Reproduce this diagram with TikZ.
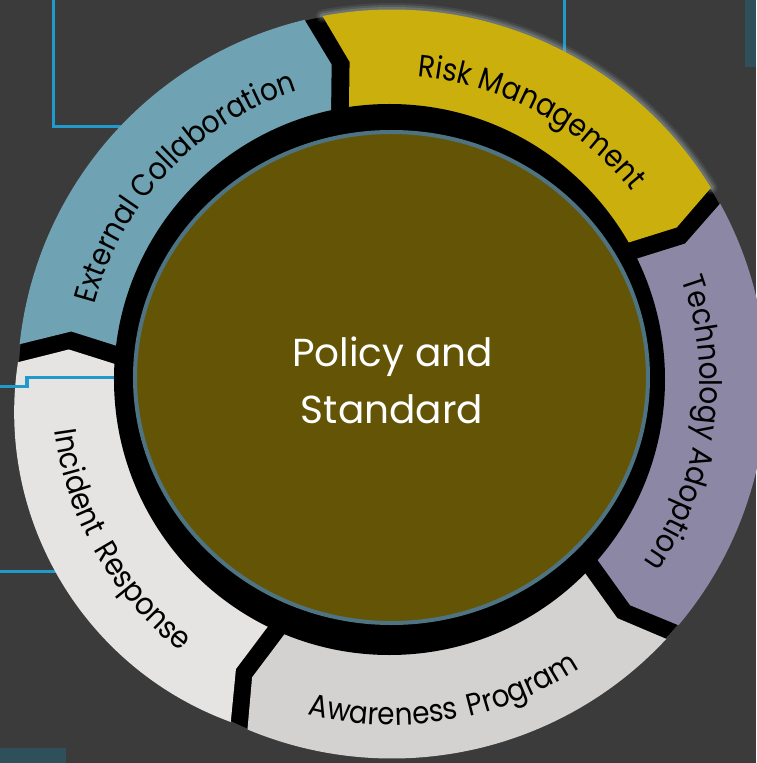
\documentclass[tikz,border=0pt]{standalone}
\usepackage{fontspec}
\usetikzlibrary{decorations.text}
\newfontfamily\segfont[FakeStretch=0.9]{Poppins}
\newfontfamily\cenfont{Poppins}
\definecolor{bgc}{HTML}{3B3B3B}
\definecolor{bluel}{HTML}{1F9ACB}
\definecolor{tealc}{HTML}{2F4F5B}
\definecolor{segB}{HTML}{6FA2B2}
\definecolor{segY}{HTML}{CBAF0C}
\definecolor{segP}{HTML}{8B87A5}
\definecolor{segA}{HTML}{D3D2D0}
\definecolor{segI}{HTML}{E5E4E2}
\definecolor{olivec}{HTML}{645405}
\definecolor{oliveb}{HTML}{4E7484}
\definecolor{glowc}{HTML}{9AA8AE}
\tikzset{
  bline/.style={bluel, line width=3.2pt},
  segtext/.style={decorate, decoration={text along path, text align=center, text={|\segfont\fontsize{31}{34}\selectfont|#1}}},
  centertext/.style={text=white, font=\cenfont\fontsize{39}{45}\selectfont, anchor=base, inner sep=0pt}
}
\begin{document}
\begin{tikzpicture}[x=1pt,y=1pt]
\useasboundingbox (-392,-379) rectangle (364,384);
\fill[bgc] (-392,-379) rectangle (364,384);
% background connector lines
\coordinate (l1a) at (-338.5,384);
\coordinate (l1b) at (-338.5,257.5);
\coordinate (l1c) at (-250,257.5);
\draw[bline] (l1a) -- (l1b) -- (l1c);
\coordinate (l2a) at (172.7,384);
\coordinate (l2b) at (172.7,320);
\draw[bline] (l2a) -- (l2b);
\coordinate (l3a) at (-392,-187.3);
\coordinate (l3b) at (-300,-187.3);
\draw[bline] (l3a) -- (l3b);
\fill[tealc] (-392,-379) rectangle (-326,-364);
\fill[tealc] (353,384) rectangle (364,317);
% black base disc
\fill[black] (0,0) circle (373.5);
% glow of the risk segment
\foreach \w/\o in {13/0.12,9/0.2,5/0.3}
  \draw[glowc, line width=\w pt, opacity=\o, line cap=round] (100.7:374.5) arc[start angle=100.7, end angle=31.6, radius=374.5];
% segments
\foreach \s/\e/\c in {102.1/30.2/segY, 30.2/-41.5/segP, -41.5/-114.1/segA, 175.3/102.1/segB}
  \fill[\c] (\s-2.1:250) -- (\s-4.6:325) -- (\s-1.4:374.5) arc[start angle=\s-1.4, end angle=\e+1.4, radius=374.5] -- (\e-1.4:325) -- (\e+2.1:250) -- cycle;
% incident segment: its outer edge bulges a little more
\fill[segI] (-116.2:250) -- (-118.7:325) -- (-115.5:374.5)
  arc[start angle=-110.1, end angle=-188.7, radius=330] -- (-186.1:325) -- (-182.6:250) -- cycle;
% connector line crossing the incident segment
\coordinate (l4a) at (-392,-2.7);
\coordinate (l4b) at (-365,-2.7);
\coordinate (l4c) at (-365,6.5);
\coordinate (l4d) at (-270,6.5);
\draw[bline] (l4a) -- (l4b) -- (l4c) -- (l4d);
% inner black ring and centre
\fill[black] (-2.5,4.5) circle (275.5);
\filldraw[fill=olivec, draw=oliveb, line width=4pt] (-0.5,6.5) ellipse [x radius=256.5, y radius=245.5];
\node[centertext] (pol) at (0.5,18) {Policy and};
\node[centertext] (std) at (0,-39) {Standard};
% segment labels
\path[segtext={External Collaboration}] (174.5:308) arc[start angle=174.5, end angle=98.5, radius=308];
\path[segtext={Risk Management}] (100:308) arc[start angle=100, end angle=24, radius=308];
\path[segtext={Technology Adoption}] (30.3:308) arc[start angle=30.3, end angle=-45.7, radius=308];
\path[segtext={Awareness{\hspace{3pt}} Program}] (-118.4:341) arc[start angle=-118.4, end angle=-42.4, radius=341];
\path[segtext={Incident{\hspace{6pt}} Response}] (171.8:341) arc[start angle=171.8, end angle=247.8, radius=341];
\end{tikzpicture}
\end{document}
